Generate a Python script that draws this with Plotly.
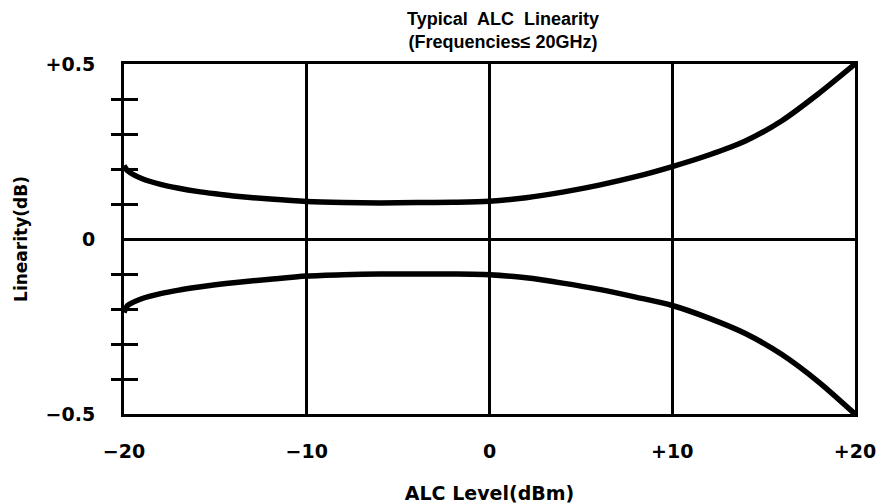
"""Typical ALC linearity vs ALC level: upper and lower linearity bounds."""
import plotly.graph_objects as go

# ALC level (dBm) sample points
alc_level = [-20, -19.8, -19, -18, -17, -16, -15, -14, -12, -10, -8, -6, -4, -2,
             0, 2, 4, 6, 8, 10, 12, 14, 16, 18, 20]
upper_linearity = [0.21, 0.195, 0.172, 0.156, 0.145, 0.136, 0.129, 0.123, 0.114, 0.107,
                   0.104, 0.103, 0.104, 0.105, 0.108, 0.118, 0.134, 0.154, 0.178, 0.207,
                   0.24, 0.28, 0.338, 0.415, 0.50]
lower_linearity = [-0.21, -0.19, -0.17, -0.156, -0.146, -0.138, -0.131, -0.125, -0.115, -0.106,
                   -0.102, -0.100, -0.100, -0.100, -0.102, -0.111, -0.126, -0.144, -0.166, -0.19,
                   -0.226, -0.27, -0.33, -0.408, -0.50]

x_tick_vals = [-20, -10, 0, 10, 20]
x_tick_text = ["\u221220", "\u221210", "0", "+10", "+20"]
y_tick_vals = [-0.5, 0, 0.5]
y_tick_text = ["\u22120.5", "0", "+0.5"]
y_minor_vals = [-0.4, -0.3, -0.2, -0.1, 0.1, 0.2, 0.3, 0.4]

FONT = "DejaVu Sans"
INK = "black"

fig = go.Figure()
fig.add_trace(go.Scatter(
    x=alc_level, y=upper_linearity, mode="lines",
    line=dict(color=INK, width=5.5, shape="spline", smoothing=0.8),
    showlegend=False, hoverinfo="skip",
))
# lower curve sits on the overlay axis so that axis (outer tick halves) gets drawn
fig.add_trace(go.Scatter(
    x=alc_level, y=lower_linearity, mode="lines", yaxis="y2",
    line=dict(color=INK, width=5.5, shape="spline", smoothing=0.8),
    showlegend=False, hoverinfo="skip",
))

fig.update_layout(
    width=890, height=504,
    paper_bgcolor="white", plot_bgcolor="white",
    margin=dict(l=124, r=35, t=64, b=90, autoexpand=False),
    annotations=[dict(
        text="Typical  ALC  Linearity<br>(Frequencies\u2264 20GHz)",
        xref="paper", yref="paper", x=(503 - 124) / 731, y=1 + 10 / 350,
        xanchor="center", yanchor="bottom", showarrow=False,
        font=dict(family="Liberation Sans", size=18, color=INK, weight="bold"),
    )],
    xaxis=dict(
        range=[-20, 20], tickvals=x_tick_vals, ticktext=x_tick_text,
        showgrid=True, gridcolor=INK, gridwidth=2.5,
        showline=True, linecolor=INK, linewidth=3, mirror=True,
        zeroline=False, ticks="", ticklabelstandoff=18, automargin=False,
        tickfont=dict(family=FONT, size=19, color=INK, weight="bold"),
        title=dict(text="ALC Level(dBm)", standoff=30,
                   font=dict(family=FONT, size=19, color=INK, weight="bold")),
    ),
    yaxis=dict(
        range=[-0.5, 0.5], tickvals=y_tick_vals, ticktext=y_tick_text,
        showgrid=False, zeroline=True, zerolinecolor=INK, zerolinewidth=2.5,
        showline=True, linecolor=INK, linewidth=3, mirror=True,
        ticks="", ticklabelstandoff=22, automargin=False,
        minor=dict(tickvals=y_minor_vals, ticks="inside", ticklen=14,
                   tickwidth=2.5, tickcolor=INK, showgrid=False),
        tickfont=dict(family=FONT, size=19, color=INK, weight="bold"),
        title=dict(text="Linearity(dB)", standoff=14,
                   font=dict(family=FONT, size=17, color=INK, weight="bold")),
    ),
    yaxis2=dict(
        range=[-0.5, 0.5], overlaying="y", side="left", anchor="x",
        tickmode="array", tickvals=y_minor_vals, ticks="outside", ticklen=12,
        tickwidth=2.5, tickcolor=INK, showticklabels=False,
        showgrid=False, zeroline=False, showline=False, automargin=False,
    ),
)

# drop the browser's default body margin so the figure sits at the page corner
fig.write_html(
    "out.html",
    config={"displayModeBar": False},
    post_script="document.body.style.margin='0';",
)
